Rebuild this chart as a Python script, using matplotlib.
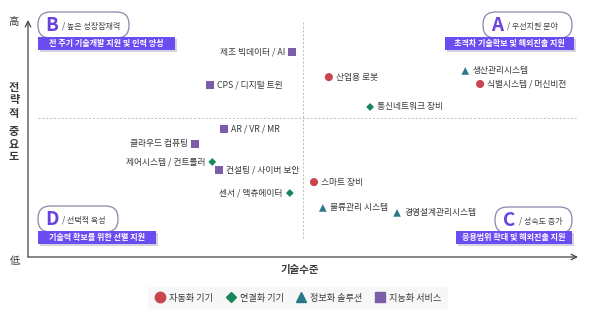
import matplotlib
matplotlib.use("Agg")
import matplotlib.pyplot as plt
from matplotlib.patches import FancyBboxPatch, Rectangle
from matplotlib.lines import Line2D

plt.rcParams["font.family"] = ["Noto Sans CJK KR", "DejaVu Sans"]

# data (x: 기술수준, y: 전략적 중요도, both 0-100)
groups = ["자동화 기기", "연결화 기기", "정보화 솔루션", "지능화 서비스"]
names = [
    "제조 빅데이터 / AI", "CPS / 디지털 트윈", "산업용 로봇", "생산관리시스템",
    "식별시스템 / 머신비전", "통신네트워크 장비", "AR / VR / MR", "클라우드 컴퓨팅",
    "제어시스템 / 컨트롤러", "컨설팅 / 사이버 보안", "센서 / 액츄에이터", "스마트 장비",
    "물류관리 시스템", "경영설계관리시스템",
]
tech_level = [48.0, 33.1, 54.7, 79.5, 82.2, 62.2, 35.6, 30.4, 33.5, 34.7, 47.6, 52.0, 53.6, 67.1]
strategic = [86.5, 72.6, 75.9, 78.5, 73.0, 63.3, 54.0, 47.7, 40.1, 36.7, 27.0, 31.6, 20.7, 18.6]
group_of = [3, 3, 0, 2, 0, 1, 3, 3, 1, 3, 1, 0, 2, 2]
x_split, y_split = 50, 58.6

quadrants = [
    ("B", "/ 높은 성장잠재력", "전 주기 기술개발 지원 및 인력 양성"),
    ("A", "/ 우선지원 분야", "초격차 기술확보 및 해외진출 지원"),
    ("D", "/ 선택적 육성", "기술력 확보를 위한 선별 지원"),
    ("C", "/ 성숙도 증가", "응용범위 확대 및 해외진출 지원"),
]

# styles
colors = ["#c8464e", "#17875a", "#2a7889", "#7b5da8"]
markers = ["o", "D", "^", "s"]
sizes = [34, 16, 30, 30]
left_labels = {"제조 빅데이터 / AI", "클라우드 컴퓨팅", "제어시스템 / 컨트롤러", "센서 / 액츄에이터"}
PURPLE = "#6a4cf0"
LETTER = "#6a42e0"
TEXT = "#3a3a3a"

fig = plt.figure(figsize=(6.0, 3.18), dpi=100)
ax = fig.add_axes([28 / 600, 61 / 318, 550 / 600, 237 / 318])
ax.set_xlim(0, 100)
ax.set_ylim(0, 100)
ax.axis("off")

# axes arrows
arrow = dict(arrowstyle="->", color="#444444", lw=0.9, shrinkA=0, shrinkB=0)
ax.annotate("", xy=(0, 1.0), xytext=(0, 0), xycoords="axes fraction", arrowprops=arrow)
ax.annotate("", xy=(1.0, 0), xytext=(0, 0), xycoords="axes fraction", arrowprops=arrow)

# quadrant dividers
ax.axvline(x_split, ymin=0.08, ymax=0.99, color="#bbbbbb", lw=0.7, ls=(0, (2, 2)))
ax.axhline(y_split, xmin=0.018, xmax=0.996, color="#bbbbbb", lw=0.7, ls=(0, (2, 2)))

for gi in range(len(groups)):
    xs = [tech_level[i] for i in range(len(names)) if group_of[i] == gi]
    ys = [strategic[i] for i in range(len(names)) if group_of[i] == gi]
    ax.scatter(xs, ys, marker=markers[gi], s=sizes[gi], color=colors[gi],
               edgecolors="none", zorder=3)

for name, x, y in zip(names, tech_level, strategic):
    if name in left_labels:
        ax.annotate(name, (x, y), xytext=(-5, 0), textcoords="offset points",
                    ha="right", va="center", fontsize=6.3, color=TEXT)
    else:
        ax.annotate(name, (x, y), xytext=(5, 0), textcoords="offset points",
                    ha="left", va="center", fontsize=6.3, color=TEXT)

# overlay in pixel coords for the decorations
ov = fig.add_axes([0, 0, 1, 1], zorder=5)
ov.set_xlim(0, 600)
ov.set_ylim(318, 0)
ov.axis("off")
ov.patch.set_alpha(0)


def badge(pill, banner, letter, sub, text):
    px0, py0, px1, py1 = pill
    ov.add_patch(FancyBboxPatch((px0, py0), px1 - px0, py1 - py0,
                                boxstyle="round,pad=0,rounding_size=12.5",
                                fc="white", ec="#8d86a8", lw=0.9, zorder=6))
    ov.text(px0 + 14, (py0 + py1) / 2 + 0.5, letter, ha="center", va="center",
            fontsize=13.5, fontweight="black", color=LETTER, zorder=7)
    ov.text(px0 + 24, (py0 + py1) / 2 + 1, sub, ha="left", va="center",
            fontsize=5.8, color="#444444", zorder=7)
    bx0, by0, bx1, by1 = banner
    ov.add_patch(Rectangle((bx0 + 2, by0 + 2), bx1 - bx0, by1 - by0,
                           fc="#b8b4cc", ec="none", alpha=0.6, zorder=6))
    ov.add_patch(Rectangle((bx0, by0), bx1 - bx0, by1 - by0,
                           fc=PURPLE, ec="none", zorder=7))
    ov.text((bx0 + bx1) / 2, (by0 + by1) / 2, text, ha="center", va="center",
            fontsize=5.8, fontweight="bold", color="white", zorder=8)


layout = [
    ((38, 12, 129, 38), (38, 37, 175, 50)),
    ((483, 12, 572, 38), (445, 37, 574, 50)),
    ((38, 206, 118, 232), (38, 231, 156, 244)),
    ((495, 207, 572, 233), (456, 231, 572, 244)),
]
for (letter, sub, text), (pill, banner) in zip(quadrants, layout):
    badge(pill, banner, letter, sub, text)

# axis texts
ov.text(13, 22, "高", ha="center", va="center", fontsize=7.5, color=TEXT)
ov.text(15, 261, "低", ha="center", va="center", fontsize=7.5, color=TEXT)
for ch, yy in zip("전략적중요도", [87, 100, 113, 132, 144, 156]):
    ov.text(14, yy, ch, ha="center", va="center", fontsize=8, fontweight="bold",
            color=TEXT)
ov.text(300, 270, "기술수준", ha="center", va="center", fontsize=7.5,
        fontweight="bold", color=TEXT)

handles = [Line2D([], [], marker=markers[i], color=colors[i], ls="none",
                  markersize=[7.5, 5, 7, 7][i]) for i in range(len(groups))]
leg = fig.legend(handles, groups, loc="center", bbox_to_anchor=(298 / 600, 1 - 298 / 318),
                 ncol=4, fontsize=6.6, frameon=True, facecolor="#f5f5f5", edgecolor="none",
                 handletextpad=0.35, columnspacing=1.35, borderpad=0.75, fancybox=False,
                 handlelength=1.2)
for t in leg.get_texts():
    t.set_color(TEXT)

fig.savefig("out.png", dpi=100)
